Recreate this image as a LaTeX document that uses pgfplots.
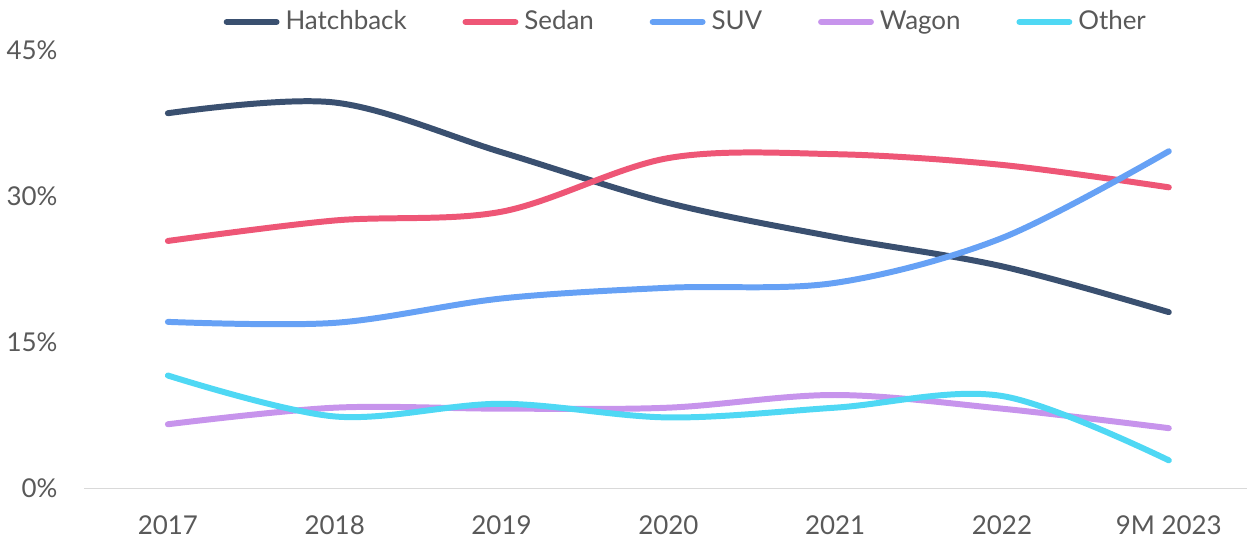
\documentclass[border=0pt]{standalone}
\usepackage{fontspec}
\setmainfont{Lato}
\usepackage{pgfplots}
\pgfplotsset{compat=1.18}
\definecolor{hatch}{HTML}{3A5070}
\definecolor{sedan}{HTML}{EE5676}
\definecolor{suv}{HTML}{66A1F5}
\definecolor{wagon}{HTML}{C794EC}
\definecolor{other}{HTML}{4FD8F4}
\definecolor{txt}{HTML}{595959}

\begin{document}
\begin{tikzpicture}
\begin{axis}[
    scale only axis,
    width=583pt, height=220pt,
    xmin=-0.5, xmax=6.47,
    ymin=0, ymax=45,
    xtick={0,1,2,3,4,5,6},
    xticklabels={2017,2018,2019,2020,2021,2022,9M 2023},
    ytick={0,15,30,45},
    yticklabel={\pgfmathprintnumber{\tick}\%},
    /pgf/number format/assume math mode=true,
    tick label style={font=\fontsize{13}{15}\selectfont, text=txt},
    xticklabel style={yshift=-10pt},
    yticklabel style={xshift=-10pt},
    axis line style={draw=none},
    axis x line*=bottom,
    axis y line=none,
    hide y axis=false,
    major tick length=0pt,
    clip=false,
    legend columns=5,
    legend style={at={(0.5,1.0)}, anchor=center, yshift=14pt, xshift=10.5pt, draw=none,
        font=\fontsize{13}{15}\selectfont, text=txt,
        /tikz/every odd column/.append style={column sep=1pt},
        /tikz/every even column/.append style={column sep=26pt}},
    legend image code/.code={\draw[#1, line cap=round] (0cm,0cm) -- (25pt,0cm);},
    every axis plot/.append style={line width=3pt, smooth, tension=0.55, line cap=round},
]
\draw[gray!30, line width=0.8pt] (axis cs:-0.5,0) -- (axis cs:6.47,0);
\addplot[hatch] coordinates {(0,38.5) (1,39.6) (2,34.5) (3,29.3) (4,25.8) (5,22.8) (6,18.1)};
\addlegendentry{Hatchback}
\addplot[sedan] coordinates {(0,25.4) (1,27.5) (2,28.4) (3,33.9) (4,34.3) (5,33.2) (6,30.9)};
\addlegendentry{Sedan}
\addplot[suv] coordinates {(0,17.1) (1,17.0) (2,19.5) (3,20.6) (4,21.1) (5,25.7) (6,34.6)};
\addlegendentry{SUV}
\addplot[wagon] coordinates {(0,6.6) (1,8.3) (2,8.2) (3,8.3) (4,9.6) (5,8.2) (6,6.2)};
\addlegendentry{Wagon}
\addplot[other] coordinates {(0,11.6) (1,7.4) (2,8.7) (3,7.3) (4,8.3) (5,9.5) (6,2.9)};
\addlegendentry{Other}
\end{axis}
\path (current axis.south west) ++(-41pt,-25pt) rectangle ([yshift=25pt]current axis.north east);
\end{tikzpicture}
\end{document}
